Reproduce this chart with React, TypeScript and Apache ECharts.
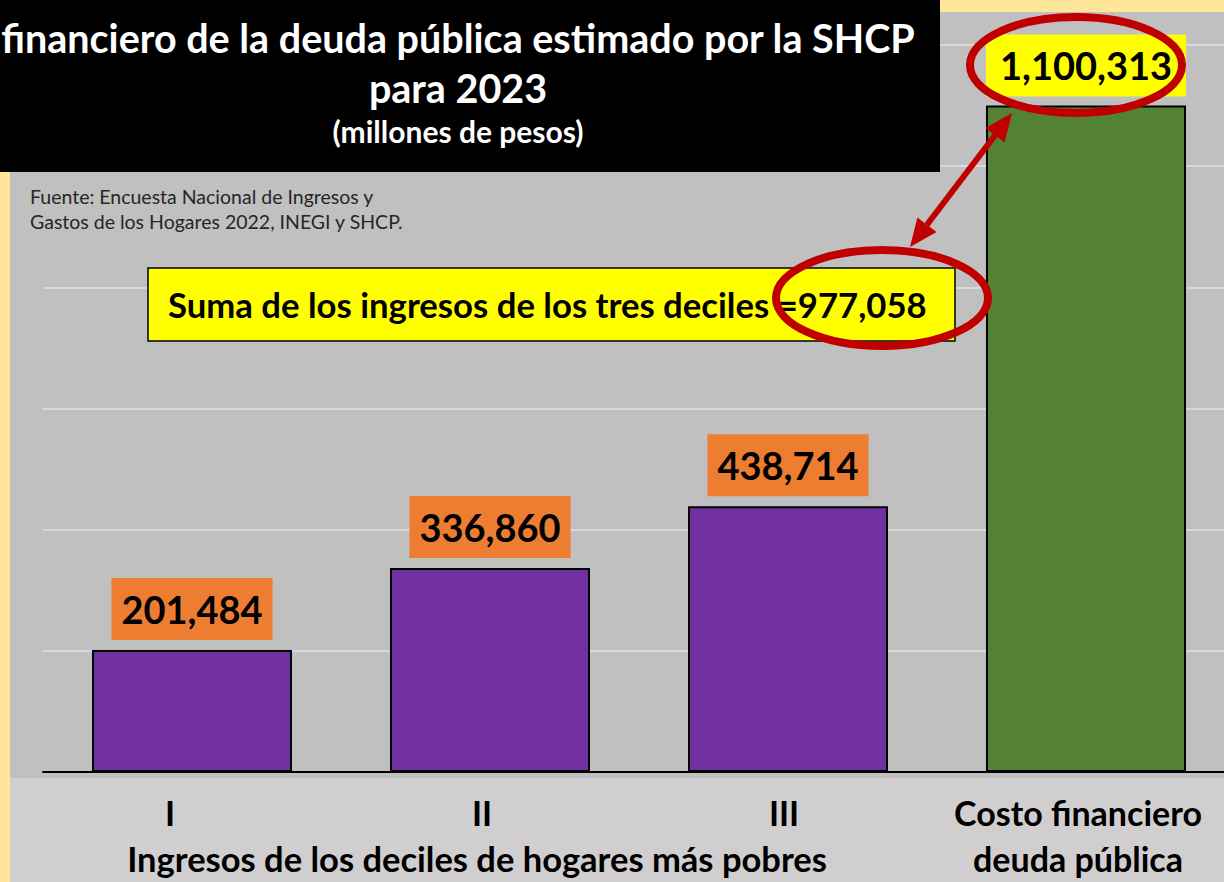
import React, { useEffect, useRef } from "react";
import * as echarts from "echarts";

const categories = ["I", "II", "III", "Costo financiero\ndeuda pública"];
const values = [201484, 336860, 438714, 1100313];
const barColors = ["#7030A0", "#7030A0", "#7030A0", "#548235"];
const labelBackgrounds = ["#ED7D31", "#ED7D31", "#ED7D31", "#FFFF00"];
const labelShifts = [22, 8, 4, 8];
const yMin = 0;
const yMax = 1200000;
const yInterval = 200000;
const groupLabel = "Ingresos de los deciles de hogares más pobres";
const sumLabel = "Suma de los ingresos de los tres deciles =977,058";
const titleLines = [
  "financiero de la deuda pública estimado por la SHCP",
  "para 2023",
];
const subtitle = "(millones de pesos)";
const sourceLines = [
  "Fuente: Encuesta Nacional de Ingresos y",
  "Gastos de los Hogares 2022, INEGI y SHCP.",
];

const FONT = "Lato, 'Open Sans', sans-serif";
const W = 1240;
const H = 882;

function fmt(v: number) {
  return v.toLocaleString("en-US");
}

export default function App() {
  const ref = useRef<HTMLDivElement>(null);
  useEffect(() => {
    if (!ref.current) return;
    const chart = echarts.init(ref.current, null, { renderer: "svg" });

    const rich: any = {};
    labelShifts.forEach((s, i) => {
      rich["l" + i] = {
        fontFamily: FONT,
        fontWeight: "bold",
        fontSize: 34,
        color: "#000",
        lineHeight: 46,
        padding: [0, s * 2, 0, 0],
      };
    });

    // arrow geometry
    const T = [1012, 113];
    const S = [910, 247];
    const dx = S[0] - T[0];
    const dy = S[1] - T[1];
    const len = Math.hypot(dx, dy);
    const u = [dx / len, dy / len];
    const n = [u[1], -u[0]];
    const headL = 28;
    const headW = 12;
    const B1 = [T[0] + u[0] * headL, T[1] + u[1] * headL];
    const B2 = [S[0] - u[0] * headL, S[1] - u[1] * headL];

    const option: any = {
      animation: false,
      backgroundColor: "#C0C0C0",
      grid: { left: 43, top: 45, bottom: 110, right: W - 43 - 1192, containLabel: false },
      xAxis: {
        type: "category",
        data: categories,
        z: 10,
        axisLine: { show: true, lineStyle: { color: "#000", width: 2 } },
        axisTick: { show: false },
        axisLabel: {
          margin: 17,
          interval: 0,
          formatter: (value: string, index: number) =>
            value
              .split("\n")
              .map((line) => `{l${index}|${line}}`)
              .join("\n"),
          rich,
        },
      },
      yAxis: {
        type: "value",
        min: yMin,
        max: yMax,
        interval: yInterval,
        axisLabel: { show: false },
        axisLine: { show: false },
        axisTick: { show: false },
        splitLine: { lineStyle: { color: "#D9D9D9", width: 2 } },
      },
      series: [
        {
          type: "bar",
          barWidth: 200,
          data: values.map((v, i) => ({
            value: v,
            itemStyle: { color: barColors[i] },
            label: {
              backgroundColor: labelBackgrounds[i],
              padding: i === 3 ? [9, 14, 9, 14] : [9, 10, 9, 10],
              distance: i === 3 ? 9 : 10,
            },
          })),
          itemStyle: { borderColor: "#000", borderWidth: 2 },
          label: {
            show: true,
            position: "top",
            formatter: (p: any) => fmt(p.value),
            fontFamily: FONT,
            fontWeight: "bold",
            fontSize: 38,
            lineHeight: 44,
            color: "#000",
          },
        },
      ],
      graphic: [
        // backgrounds
        { type: "rect", z: -1, shape: { x: 0, y: 0, width: 10, height: H }, style: { fill: "#FFE699" } },
        { type: "rect", z: -1, shape: { x: 0, y: 0, width: W, height: 12 }, style: { fill: "#FFE699" } },
        { type: "rect", z: -1, shape: { x: 10, y: 778, width: W - 10, height: H - 778 }, style: { fill: "#D0CECE" } },
        // title box
        { type: "rect", z: 50, shape: { x: 0, y: 0, width: 940, height: 172 }, style: { fill: "#000" } },
        {
          type: "text", z: 51, x: 458, y: 37,
          style: { text: titleLines[0], fill: "#fff", font: `bold 39.5px ${FONT}`, align: "center", verticalAlign: "middle" },
        },
        {
          type: "text", z: 51, x: 458, y: 87,
          style: { text: titleLines[1], fill: "#fff", font: `bold 39.5px ${FONT}`, align: "center", verticalAlign: "middle" },
        },
        {
          type: "text", z: 51, x: 458, y: 131,
          style: { text: subtitle, fill: "#fff", font: `bold 30px ${FONT}`, align: "center", verticalAlign: "middle" },
        },
        // source
        {
          type: "text", z: 51, x: 30, y: 196,
          style: { text: sourceLines[0], fill: "#262626", font: `19.5px ${FONT}`, align: "left", verticalAlign: "middle" },
        },
        {
          type: "text", z: 51, x: 30, y: 221,
          style: { text: sourceLines[1], fill: "#262626", font: `19.5px ${FONT}`, align: "left", verticalAlign: "middle" },
        },
        // sum annotation
        {
          type: "rect", z: 60, shape: { x: 148, y: 268, width: 807, height: 73 },
          style: { fill: "#FFFF00", stroke: "#000", lineWidth: 1.5 },
        },
        {
          type: "text", z: 61, x: 168, y: 304,
          style: { text: sumLabel, fill: "#000", font: `bold 34.7px ${FONT}`, align: "left", verticalAlign: "middle" },
        },
        // group label
        {
          type: "text", z: 61, x: 477, y: 858,
          style: { text: groupLabel, fill: "#000", font: `bold 34.5px ${FONT}`, align: "center", verticalAlign: "middle" },
        },
        // ellipses
        {
          type: "ellipse", z: 70, shape: { cx: 1076, cy: 65, rx: 106, ry: 48 },
          style: { fill: "none", stroke: "#C00000", lineWidth: 8 },
        },
        {
          type: "ellipse", z: 70, shape: { cx: 882, cy: 298, rx: 106, ry: 48 },
          style: { fill: "none", stroke: "#C00000", lineWidth: 8 },
        },
        // arrow
        {
          type: "line", z: 71, shape: { x1: B1[0], y1: B1[1], x2: B2[0], y2: B2[1] },
          style: { stroke: "#C00000", lineWidth: 6 },
        },
        {
          type: "polygon", z: 71,
          shape: { points: [T, [B1[0] + n[0] * headW, B1[1] + n[1] * headW], [B1[0] - n[0] * headW, B1[1] - n[1] * headW]] },
          style: { fill: "#C00000" },
        },
        {
          type: "polygon", z: 71,
          shape: { points: [S, [B2[0] + n[0] * headW, B2[1] + n[1] * headW], [B2[0] - n[0] * headW, B2[1] - n[1] * headW]] },
          style: { fill: "#C00000" },
        },
      ],
    };
    chart.setOption(option);
    return () => chart.dispose();
  }, []);
  return (
    <div
      ref={ref}
      style={{ position: "fixed", left: 0, top: 0, width: W, height: H }}
    />
  );
}
